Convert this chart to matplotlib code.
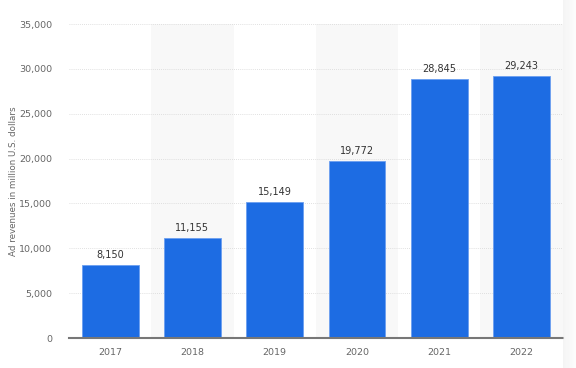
import matplotlib
matplotlib.use("Agg")
import matplotlib.pyplot as plt
import numpy as np

years = ["2017", "2018", "2019", "2020", "2021", "2022"]
revenues = [8150, 11155, 15149, 19772, 28845, 29243]
yticks = [0, 5000, 10000, 15000, 20000, 25000, 30000, 35000]

plt.rcParams["font.family"] = ["DejaVu Sans"]

fig = plt.figure(figsize=(5.76, 3.68), dpi=100)
ax = fig.add_axes([0.1198, 0.0815, 0.857, 0.853])

x = np.arange(len(years))
# alternating background bands
for i in x:
    if i % 2 == 1:
        ax.axvspan(i - 0.5, i + 0.5, color="#f8f8f8", zorder=0, lw=0)

ax.bar(x, revenues, width=0.69, color="#1d6ce3", edgecolor="#6b9ff0",
       linewidth=0.6, zorder=3)

for xi, v in zip(x, revenues):
    ax.text(xi, v + 550, f"{v:,}", ha="center", va="bottom",
            fontsize=7, color="#333333", fontweight="medium", zorder=4)

ax.set_xlim(-0.5, len(years) - 0.5)
ax.set_ylim(0, 35000)
ax.set_yticks(yticks)
ax.set_yticklabels([f"{t:,}" for t in yticks])
ax.set_xticks(x)
ax.set_xticklabels(years)
ax.tick_params(axis="both", length=0, labelsize=6.8, colors="#666666")
ax.tick_params(axis="y", pad=12)
ax.tick_params(axis="x", pad=7)

ax.grid(axis="y", linestyle=(0, (1, 1.5)), color="#d6d6d6", linewidth=0.6, zorder=1)
for s in ["top", "right", "left"]:
    ax.spines[s].set_visible(False)
ax.spines["bottom"].set_color("#777777")
ax.spines["bottom"].set_linewidth(1.5)
ax.spines["bottom"].set_zorder(5)

ax.set_ylabel("Ad revenues in million U.S. dollars", fontsize=6.3, color="#666666")
ax.yaxis.set_label_coords(-0.103, 0.5)

# faint shadow strip on the right edge
for k in range(12):
    fig.patches.append(plt.Rectangle((0.978 + k * 0.0018, 0), 0.0018, 1,
                                     transform=fig.transFigure,
                                     color=(0.92, 0.92, 0.92), alpha=0.5 - 0.035 * k,
                                     lw=0))

fig.savefig("out.png", dpi=100, facecolor="white")
